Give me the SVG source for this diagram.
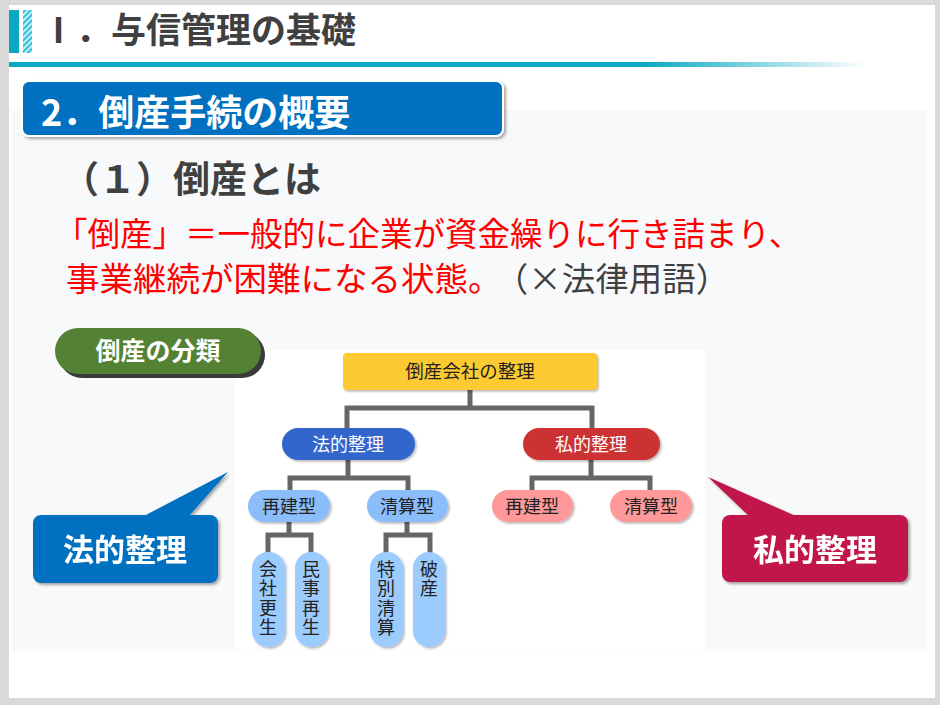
<svg xmlns="http://www.w3.org/2000/svg" width="940" height="705" viewBox="0 0 940 705">
<defs>
<style>
.jp{font-family:"Noto Sans CJK JP","Noto Sans",sans-serif}
.b{font-weight:bold}
.w{fill:#fff}
.ch{font-size:18px;fill:#222;text-anchor:middle}
.cw{font-size:18px;fill:#fff;text-anchor:middle}
.vt{font-size:18px;fill:#222;writing-mode:vertical-rl;letter-spacing:1.5px}
.conn{fill:none;stroke:#666;stroke-width:5}
</style>
<linearGradient id="rule" x1="0" x2="1" y1="0" y2="0">
<stop offset="0" stop-color="#0aa9c2"/>
<stop offset="0.74" stop-color="#0aa9c2"/>
<stop offset="1" stop-color="#0aa9c2" stop-opacity="0"/>
</linearGradient>
<pattern id="hatch" width="4" height="4" patternUnits="userSpaceOnUse" patternTransform="rotate(45)">
<rect width="4" height="4" fill="#c8f0f8"/>
<rect width="2" height="4" fill="#2cc0dc"/>
</pattern>
<filter id="sh" x="-10%" y="-10%" width="130%" height="140%">
<feDropShadow dx="2" dy="2" stdDeviation="1.5" flood-color="#000" flood-opacity="0.35"/>
</filter>
<filter id="sh2" x="-10%" y="-10%" width="130%" height="140%">
<feDropShadow dx="1.5" dy="1.5" stdDeviation="1" flood-color="#000" flood-opacity="0.3"/>
</filter>
</defs>
<rect width="940" height="705" fill="#d9d9d9"/>
<rect x="9" y="5" width="926" height="693" fill="#fff"/>
<rect x="12" y="110" width="915" height="541" fill="#f8f9fb"/>

<g id="header">
<rect x="9" y="10" width="10" height="43" fill="#0aa9c2"/>
<rect x="23" y="10" width="9" height="43" fill="url(#hatch)"/>
<text x="41" y="43" class="jp b" font-size="35" fill="#404040">Ⅰ．与信管理の基礎</text>
<rect x="9" y="62" width="857" height="5" fill="url(#rule)"/>
</g>

<g id="banner">
<rect x="22" y="81" width="481" height="55" rx="7" fill="#0070c0" stroke="#fff" stroke-width="2" filter="url(#sh)"/>
<text x="41" y="126" class="jp b w" font-size="36">2．倒産手続の概要</text>
</g>

<g id="heading">
<text x="62" y="193" class="jp b" font-size="37" fill="#404040">（１）倒産とは</text>
<text x="55" y="246" class="jp" font-size="32.5" fill="#ff0000">「倒産」＝一般的に企業が資金繰りに行き詰まり、</text>
<text x="66" y="291" class="jp" font-size="33.5" fill="#ff0000">事業継続が困難になる状態。<tspan dx="10" fill="#404040">（×法律用語）</tspan></text>
</g>

<rect x="235" y="350" width="470" height="300" fill="#fff"/>

<g id="category">
<rect x="59" y="332" width="206" height="46" rx="23" fill="#3a3a3a"/>
<rect x="55" y="328" width="206" height="46" rx="23" fill="#548235"/>
<text x="158" y="360" class="jp b w" font-size="25" text-anchor="middle">倒産の分類</text>
</g>

<g id="connectors">
<path class="conn" d="M470 390 V408 M347 410 V408 H592 V430 M347 408 V430"/>
<path class="conn" d="M348 460 V478 M290 492 V478 H408 V492"/>
<path class="conn" d="M591 460 V478 M532 492 V478 H650 V492"/>
<path class="conn" d="M289 522 V535 M268 554 V535 H311 V554"/>
<path class="conn" d="M407 522 V535 M386 554 V535 H430 V554"/>
</g>

<g id="n-root">
<rect x="343" y="353" width="254" height="37" rx="4" fill="#fdca30" filter="url(#sh2)"/>
<text x="470" y="378" class="jp" font-size="18.5" fill="#222" text-anchor="middle">倒産会社の整理</text>
</g>
<g id="n-legal">
<rect x="282" y="428" width="133" height="32" rx="16" fill="#3366cc" filter="url(#sh2)"/>
<text x="348" y="451" class="jp cw">法的整理</text>
</g>
<g id="n-private">
<rect x="523" y="428" width="137" height="32" rx="16" fill="#cc3333" filter="url(#sh2)"/>
<text x="591" y="451" class="jp cw">私的整理</text>
</g>
<g id="n-legal-rebuild">
<rect x="248" y="490" width="82" height="32" rx="16" fill="#8cbdfb" filter="url(#sh2)"/>
<text x="289" y="513" class="jp ch">再建型</text>
</g>
<g id="n-legal-liquidate">
<rect x="367" y="490" width="81" height="32" rx="16" fill="#8cbdfb" filter="url(#sh2)"/>
<text x="407" y="513" class="jp ch">清算型</text>
</g>
<g id="n-private-rebuild">
<rect x="492" y="490" width="81" height="32" rx="16" fill="#ff9999" filter="url(#sh2)"/>
<text x="532" y="513" class="jp ch">再建型</text>
</g>
<g id="n-private-liquidate">
<rect x="610" y="490" width="82" height="32" rx="16" fill="#ff9999" filter="url(#sh2)"/>
<text x="651" y="513" class="jp ch">清算型</text>
</g>
<g id="n-kaisha">
<rect x="252" y="552" width="33" height="95" rx="16" fill="#9ccbfd" filter="url(#sh2)"/>
<text x="268" y="560" class="jp vt">会社更生</text>
</g>
<g id="n-minji">
<rect x="295" y="552" width="33" height="95" rx="16" fill="#9ccbfd" filter="url(#sh2)"/>
<text x="311" y="560" class="jp vt">民事再生</text>
</g>
<g id="n-tokubetsu">
<rect x="370" y="552" width="33" height="95" rx="16" fill="#9ccbfd" filter="url(#sh2)"/>
<text x="386" y="560" class="jp vt">特別清算</text>
</g>
<g id="n-hasan">
<rect x="413" y="552" width="32" height="95" rx="16" fill="#9ccbfd" filter="url(#sh2)"/>
<text x="429" y="560" class="jp vt">破産</text>
</g>

<g id="callout-legal" filter="url(#sh)">
<path d="M142 517 L228 472 L188 517 Z" fill="#0070c0"/>
<rect x="33" y="515" width="185" height="68" rx="8" fill="#0070c0"/>
<text x="125" y="561" class="jp b w" font-size="31" text-anchor="middle">法的整理</text>
</g>
<g id="callout-private" filter="url(#sh)">
<path d="M750 517 L708 477 L798 517 Z" fill="#c0184a"/>
<rect x="722" y="515" width="186" height="67" rx="8" fill="#c0184a"/>
<text x="815" y="561" class="jp b w" font-size="31" text-anchor="middle">私的整理</text>
</g>
</svg>
